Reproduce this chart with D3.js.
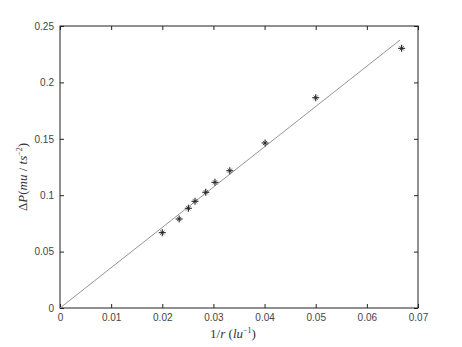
<!DOCTYPE html>
<html><head><meta charset="utf-8">
<script src="https://cdn.jsdelivr.net/npm/d3@7"></script>
<style>body{margin:0;background:#fff}svg{display:block}</style>
</head><body>
<script>
const xValues = [0.0200, 0.0233, 0.0251, 0.0264, 0.0285, 0.0303, 0.0332, 0.0401, 0.0500, 0.0668];
const yValues = [0.0668, 0.0789, 0.0884, 0.0946, 0.1026, 0.1114, 0.1217, 0.1463, 0.1864, 0.2302];
const fitX = [0, 0.0665];
const fitY = [0, 0.2376];
const xTicks = [0, 0.01, 0.02, 0.03, 0.04, 0.05, 0.06, 0.07];
const yTicks = [0, 0.05, 0.1, 0.15, 0.2, 0.25];

const W = 462, H = 347;
const m = {l: 60, t: 26, r: 418, b: 308};
const svg = d3.select("body").append("svg").attr("width", W).attr("height", H);
const x = d3.scaleLinear().domain([0, 0.07]).range([m.l, m.r]);
const y = d3.scaleLinear().domain([0, 0.25]).range([m.b, m.t]);
const fmt = d => d === 0 ? "0" : String(+d.toFixed(3));
const font = "Liberation Sans, Arial, sans-serif";

const ax = (g) => g.selectAll(".domain").remove();
svg.append("g").attr("transform", `translate(0,${m.b})`)
  .call(d3.axisBottom(x).tickValues(xTicks).tickFormat(fmt).tickSizeInner(-4).tickSizeOuter(0).tickPadding(6))
  .call(ax).call(g => g.selectAll("text").attr("font-family", font).attr("font-size", 10).attr("fill", "#444"));
svg.append("g").attr("transform", `translate(0,${m.t})`)
  .call(d3.axisTop(x).tickValues(xTicks).tickFormat("").tickSizeInner(-4).tickSizeOuter(0))
  .call(ax);
svg.append("g").attr("transform", `translate(${m.l},0)`)
  .call(d3.axisLeft(y).tickValues(yTicks).tickFormat(fmt).tickSizeInner(-4).tickSizeOuter(0).tickPadding(6))
  .call(ax).call(g => g.selectAll("text").attr("font-family", font).attr("font-size", 10).attr("fill", "#444"));
svg.append("g").attr("transform", `translate(${m.r},0)`)
  .call(d3.axisRight(y).tickValues(yTicks).tickFormat("").tickSizeInner(-4).tickSizeOuter(0))
  .call(ax);
svg.selectAll(".tick line").attr("stroke", "#222");

svg.append("rect").attr("x", m.l).attr("y", m.t).attr("width", m.r - m.l).attr("height", m.b - m.t)
  .attr("fill", "none").attr("stroke", "#222").attr("stroke-width", 1);

svg.append("path").datum(fitX.map((d, i) => [d, fitY[i]]))
  .attr("d", d3.line().x(d => x(d[0])).y(d => y(d[1])))
  .attr("stroke", "#888").attr("stroke-width", 0.9).attr("fill", "none");

const s = 3.5;
const star = svg.append("g").attr("stroke", "#222").attr("stroke-width", 1.1);
xValues.forEach((d, i) => {
  const cx = x(d), cy = y(yValues[i]);
  const g = star.append("g").attr("transform", `translate(${cx},${cy})`);
  g.append("line").attr("x1", -s).attr("x2", s).attr("y1", 0).attr("y2", 0);
  g.append("line").attr("x1", 0).attr("x2", 0).attr("y1", -s).attr("y2", s);
  g.append("line").attr("x1", -s*0.6).attr("x2", s*0.6).attr("y1", -s*0.6).attr("y2", s*0.6).attr("stroke-width", 0.8);
  g.append("line").attr("x1", -s*0.6).attr("x2", s*0.6).attr("y1", s*0.6).attr("y2", -s*0.6).attr("stroke-width", 0.8);
});

const xl = svg.append("text").attr("x", 233).attr("y", 338).attr("text-anchor", "middle")
  .attr("font-family", "Liberation Serif, Times New Roman, serif").attr("font-size", 13).attr("fill", "#333");
xl.append("tspan").text("1/");
xl.append("tspan").attr("font-style", "italic").text("r");
xl.append("tspan").text(" (");
xl.append("tspan").attr("font-style", "italic").text("lu");
xl.append("tspan").attr("font-size", 8).attr("dy", -5).text("−1");
xl.append("tspan").attr("dy", 5).text(")");

const yl = svg.append("text").attr("transform", "translate(27,177) rotate(-90)").attr("text-anchor", "middle")
  .attr("font-family", "Liberation Serif, Times New Roman, serif").attr("font-size", 13).attr("fill", "#333");
yl.append("tspan").text("Δ");
yl.append("tspan").attr("font-style", "italic").text("P");
yl.append("tspan").text("(");
yl.append("tspan").attr("font-style", "italic").text("mu");
yl.append("tspan").text(" / ");
yl.append("tspan").attr("font-style", "italic").text("ts");
yl.append("tspan").attr("font-size", 8).attr("dy", -5).text("−2");
yl.append("tspan").attr("dy", 5).text(")");
</script>
</body></html>
